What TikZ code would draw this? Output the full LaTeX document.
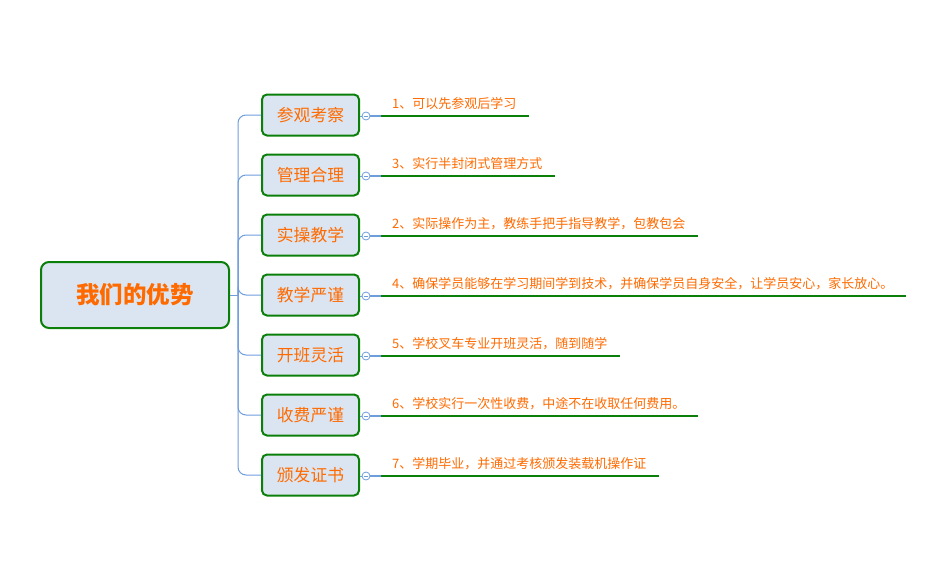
\documentclass[tikz,border=0pt]{standalone}
\usepackage{fontspec}
\usetikzlibrary{calc}
\setmainfont{Noto Sans CJK SC}
\definecolor{boxgreen}{HTML}{0A7F0A}
\definecolor{boxfill}{HTML}{DBE5F1}
\definecolor{linkblue}{HTML}{6E9DDB}
\definecolor{txtorange}{HTML}{FF6A00}
\begin{document}
\begin{tikzpicture}[x=1pt,y=-1pt,
  rootbox/.style={draw=boxgreen,line width=2pt,fill=boxfill,rounded corners=8pt,minimum width=188pt,minimum height=66pt,inner sep=0pt,text=txtorange,font=\fontsize{23.5}{25}\selectfont\bfseries},
  topicbox/.style={draw=boxgreen,line width=2pt,fill=boxfill,rounded corners=5pt,minimum width=97pt,minimum height=41pt,inner sep=0pt,text=txtorange,font=\fontsize{16.8}{18}\selectfont},
  leaftext/.style={anchor=south west,inner sep=0pt,text=txtorange,font=\fontsize{13}{15}\selectfont},
  trunk/.style={draw=linkblue,line width=1pt,rounded corners=8pt},
  knob/.style={circle,draw=linkblue,fill=white,line width=0.8pt,minimum size=8pt,inner sep=0pt},
  underline/.style={draw=boxgreen,line width=2pt}]
\useasboundingbox (0,0) rectangle (941,578);
\node[rootbox] (root) at (135,295) {我们的优势};
\coordinate (hub) at (238,295);
\draw[draw=linkblue,line width=1pt] (root.east) -- (hub);
\foreach \i/\t/\l/\e in {0/参观考察/1、可以先参观后学习/529,
  1/管理合理/3、实行半封闭式管理方式/555,
  2/实操教学/2、实际操作为主，教练手把手指导教学，包教包会/698,
  3/教学严谨/4、确保学员能够在学习期间学到技术，并确保学员自身安全，让学员安心，家长放心。/906,
  4/开班灵活/5、学校叉车专业开班灵活，随到随学/620,
  5/收费严谨/6、学校实行一次性收费，中途不在收取任何费用。/698,
  6/颁发证书/7、学期毕业，并通过考核颁发装载机操作证/659}{
  \pgfmathsetmacro{\yy}{115+60*\i}
  \node[topicbox] (t\i) at (310.5,\yy) {\t};
  \draw[trunk] (hub) |- (t\i.west);
  \node[knob] (k\i) at (366,\yy+1) {};
  \draw[linkblue,line width=0.8pt] ($(k\i.center)+(-2.2,0)$) -- ($(k\i.center)+(2.2,0)$);
  \draw[linkblue,line width=0.8pt] (t\i.east |- k\i) -- (k\i.west);
  \coordinate (a\i) at (381,\yy+1);
  \coordinate (b\i) at (\e,\yy+1);
  \draw[linkblue,line width=2pt] (k\i.east) -- (a\i);
  \draw[underline] (a\i) -- (b\i);
  \node[leaftext] (l\i) at (392,\yy-5) {\l};
}
\end{tikzpicture}
\end{document}
